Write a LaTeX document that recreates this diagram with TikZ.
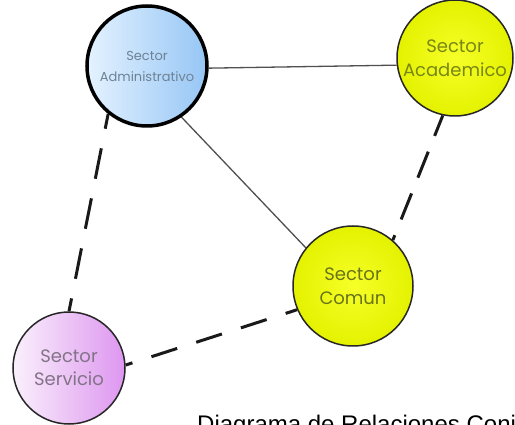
\documentclass[tikz,border=0pt]{standalone}
\usepackage{fontspec}
\setmainfont{Poppins}
\newfontfamily\capfont{Liberation Sans}
\usetikzlibrary{backgrounds}
\definecolor{admfill}{RGB}{150,198,245}
\definecolor{admlight}{RGB}{228,242,255}
\definecolor{yelfill}{RGB}{228,242,0}
\definecolor{yellight}{RGB}{246,255,40}
\definecolor{purfill}{RGB}{222,150,240}
\definecolor{purlight}{RGB}{250,240,252}
\definecolor{admtext}{RGB}{110,130,150}
\definecolor{yeltext}{RGB}{120,135,20}
\definecolor{comtext}{RGB}{105,115,25}
\definecolor{purtext}{RGB}{130,115,135}
\definecolor{thinline}{RGB}{80,80,80}
\tikzset{
  sector/.style={circle, inner sep=0pt, align=center, draw=black!85, line width=1.5pt},
  yelsector/.style={sector, shading=radial, inner color=yellight, outer color=yelfill, text=yeltext, font=\fontsize{18}{24}\selectfont},
  solidlink/.style={draw=thinline, line width=1.3pt},
  dashlink/.style={draw=black!90, line width=3pt}
}
\begin{document}
\begin{tikzpicture}[x=1pt,y=-1pt]
\useasboundingbox (0,0) rectangle (515,425);
\node[sector, minimum size=120pt, line width=3.5pt, draw=black, left color=admlight, right color=admfill, text=admtext, font=\fontsize{13}{21}\selectfont] (adm) at (147,66) {Sector\\Administrativo};
\node[yelsector, minimum size=116pt] (aca) at (455,58) {Sector\\Academico};
\node[yelsector, minimum size=120pt, text=comtext] (com) at (353,286) {Sector\\Comun};
\node[sector, minimum size=112pt, shading=axis, shading angle=60, left color=purlight, right color=purfill, text=purtext, font=\fontsize{18}{23}\selectfont] (ser) at (69,368) {Sector\\Servicio};
\begin{pgfonlayer}{background}
\fill[white] (0,0) rectangle (515,425);
\draw[solidlink] (adm.358) -- (aca.187);
\draw[solidlink] (adm.304) -- (com.141);
\draw[dashlink, dash pattern=on 31pt off 20pt, dash phase=16pt] (adm.231) -- (ser.90);
\draw[dashlink, dash pattern=on 28pt off 17pt, dash phase=6pt] (aca.258) -- (com.49);
\draw[dashlink, dash pattern=on 27pt off 20pt, dash phase=15pt] (com.203) -- (ser.3);
\end{pgfonlayer}
\node[anchor=base west, inner sep=0pt, font=\capfont\fontsize{24}{28}\selectfont] (cap) at (197,432) {Diagrama de Relaciones Conj};
\end{tikzpicture}
\end{document}
